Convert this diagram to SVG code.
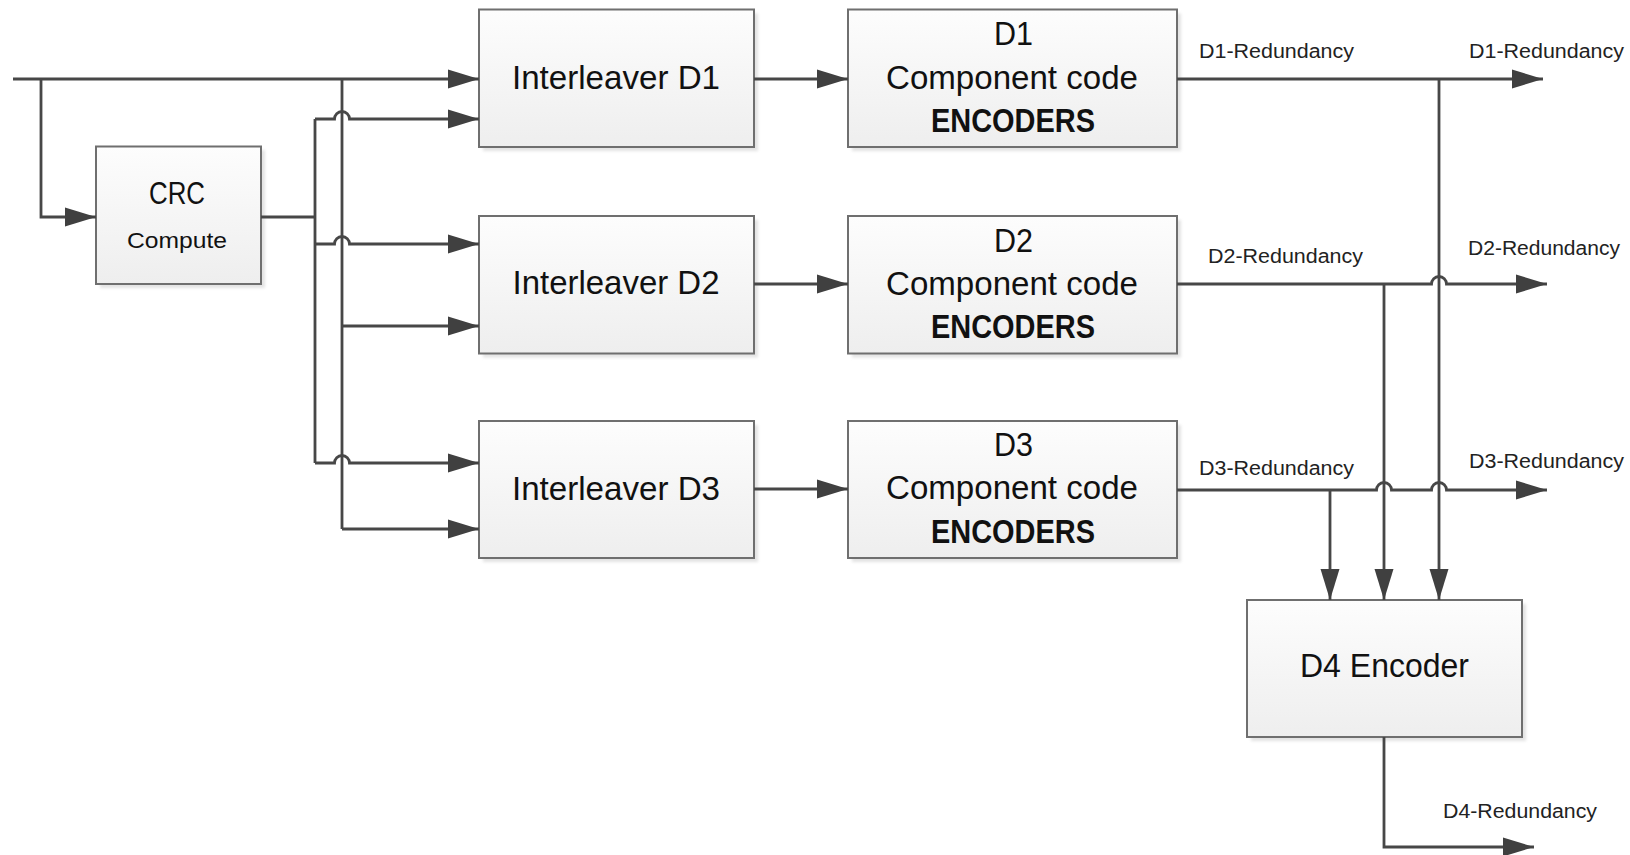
<svg xmlns="http://www.w3.org/2000/svg" width="1630" height="855" viewBox="0 0 1630 855">
<style>
.box{fill:url(#g);stroke:#6f6f6f;stroke-width:2}
.sh{fill:#e3e3e3;filter:url(#blur)}
.ln{fill:none;stroke:#474747;stroke-width:2.8}
.ar{marker-end:url(#arr)}
.t{font-family:"Liberation Sans",Arial,sans-serif;font-size:33px;fill:#111;text-anchor:start}
.b{font-weight:bold}
.s{font-family:"Liberation Sans",Arial,sans-serif;font-size:20px;fill:#222}
</style>
<defs>
<linearGradient id="g" x1="0" y1="0" x2="0" y2="1">
<stop offset="0" stop-color="#fdfdfd"/>
<stop offset="1" stop-color="#eeeeee"/>
</linearGradient>
<filter id="blur" x="-5%" y="-5%" width="110%" height="110%"><feGaussianBlur stdDeviation="1.5"/></filter>
<marker id="arr" markerUnits="userSpaceOnUse" markerWidth="32" markerHeight="20" refX="31" refY="10" orient="auto">
<path d="M0,0.5 L31,10 L0,19.5 z" fill="#404040"/>
</marker>
</defs>
<g id="crc">
<rect class="sh" x="100" y="150" width="165" height="138"/>
<rect class="box" x="96" y="146.5" width="165" height="137.5"/>
<text class="t" x="149" y="204" style="font-size:31px" textLength="56" lengthAdjust="spacingAndGlyphs">CRC</text>
<text class="t" x="127" y="248" style="font-size:22px" textLength="100" lengthAdjust="spacingAndGlyphs">Compute</text>
</g>
<g id="interleaver-d1">
<rect class="sh" x="483" y="13.5" width="275" height="137.5"/>
<rect class="box" x="479" y="9.5" width="275" height="137.5"/>
<text class="t" x="512" y="89" textLength="208" lengthAdjust="spacingAndGlyphs">Interleaver D1</text>
</g>
<g id="interleaver-d2">
<rect class="sh" x="483" y="220" width="275" height="137.5"/>
<rect class="box" x="479" y="216" width="275" height="137.5"/>
<text class="t" x="512.5" y="293.5" textLength="207" lengthAdjust="spacingAndGlyphs">Interleaver D2</text>
</g>
<g id="interleaver-d3">
<rect class="sh" x="483" y="425" width="275" height="137"/>
<rect class="box" x="479" y="421" width="275" height="137"/>
<text class="t" x="512" y="500" textLength="208" lengthAdjust="spacingAndGlyphs">Interleaver D3</text>
</g>
<g id="encoder-d1">
<rect class="sh" x="852" y="13.5" width="329" height="137.5"/>
<rect class="box" x="848" y="9.5" width="329" height="137.5"/>
<text class="t" x="994" y="45" textLength="39" lengthAdjust="spacingAndGlyphs">D1</text>
<text class="t" x="886" y="89" textLength="252" lengthAdjust="spacingAndGlyphs">Component code</text>
<text class="t b" x="931" y="132" textLength="164" lengthAdjust="spacingAndGlyphs">ENCODERS</text>
</g>
<g id="encoder-d2">
<rect class="sh" x="852" y="220" width="329" height="137.5"/>
<rect class="box" x="848" y="216" width="329" height="137.5"/>
<text class="t" x="994" y="252" textLength="39" lengthAdjust="spacingAndGlyphs">D2</text>
<text class="t" x="886" y="295" textLength="252" lengthAdjust="spacingAndGlyphs">Component code</text>
<text class="t b" x="931" y="338" textLength="164" lengthAdjust="spacingAndGlyphs">ENCODERS</text>
</g>
<g id="encoder-d3">
<rect class="sh" x="852" y="425" width="329" height="137"/>
<rect class="box" x="848" y="421" width="329" height="137"/>
<text class="t" x="994" y="456" textLength="39" lengthAdjust="spacingAndGlyphs">D3</text>
<text class="t" x="886" y="499" textLength="252" lengthAdjust="spacingAndGlyphs">Component code</text>
<text class="t b" x="931" y="543" textLength="164" lengthAdjust="spacingAndGlyphs">ENCODERS</text>
</g>
<g id="d4-encoder">
<rect class="sh" x="1251" y="604" width="275" height="137"/>
<rect class="box" x="1247" y="600" width="275" height="137"/>
<text class="t" x="1300" y="677" textLength="169" lengthAdjust="spacingAndGlyphs">D4 Encoder</text>
</g>
<g id="connectors">
<path class="ln ar" d="M13,79 H479"/>
<path class="ln ar" d="M41,79 V217 H96"/>
<path class="ln" d="M261,217 H315"/>
<path class="ln" d="M315,119 V463"/>
<path class="ln" d="M342,79 V529"/>
<path class="ln ar" d="M315,119 H334.5 A7.5,7.5 0 0 1 349.5,119 H479"/>
<path class="ln ar" d="M315,244 H334.5 A7.5,7.5 0 0 1 349.5,244 H479"/>
<path class="ln ar" d="M342,326 H479"/>
<path class="ln ar" d="M315,463 H334.5 A7.5,7.5 0 0 1 349.5,463 H479"/>
<path class="ln ar" d="M342,529 H479"/>
<path class="ln ar" d="M754,79 H848"/>
<path class="ln ar" d="M754,284 H848"/>
<path class="ln ar" d="M754,489 H848"/>
<path class="ln ar" d="M1177,79 H1543"/>
<path class="ln ar" d="M1177,284 H1431.5 A7.5,7.5 0 0 1 1446.5,284 H1547"/>
<path class="ln ar" d="M1177,490 H1376.5 A7.5,7.5 0 0 1 1391.5,490 H1431.5 A7.5,7.5 0 0 1 1446.5,490 H1547"/>
<path class="ln ar" d="M1439,79 V600"/>
<path class="ln ar" d="M1384,284 V600"/>
<path class="ln ar" d="M1330,490 V600"/>
<path class="ln ar" d="M1384,737 V847 H1534"/>
</g>
<g id="labels">
<text class="s" x="1199" y="58" textLength="155" lengthAdjust="spacingAndGlyphs">D1-Redundancy</text>
<text class="s" x="1469" y="58" textLength="155" lengthAdjust="spacingAndGlyphs">D1-Redundancy</text>
<text class="s" x="1208" y="263" textLength="155" lengthAdjust="spacingAndGlyphs">D2-Redundancy</text>
<text class="s" x="1468" y="255" textLength="152" lengthAdjust="spacingAndGlyphs">D2-Redundancy</text>
<text class="s" x="1199" y="475" textLength="155" lengthAdjust="spacingAndGlyphs">D3-Redundancy</text>
<text class="s" x="1469" y="468" textLength="155" lengthAdjust="spacingAndGlyphs">D3-Redundancy</text>
<text class="s" x="1443" y="818" textLength="154" lengthAdjust="spacingAndGlyphs">D4-Redundancy</text>
</g>
</svg>
